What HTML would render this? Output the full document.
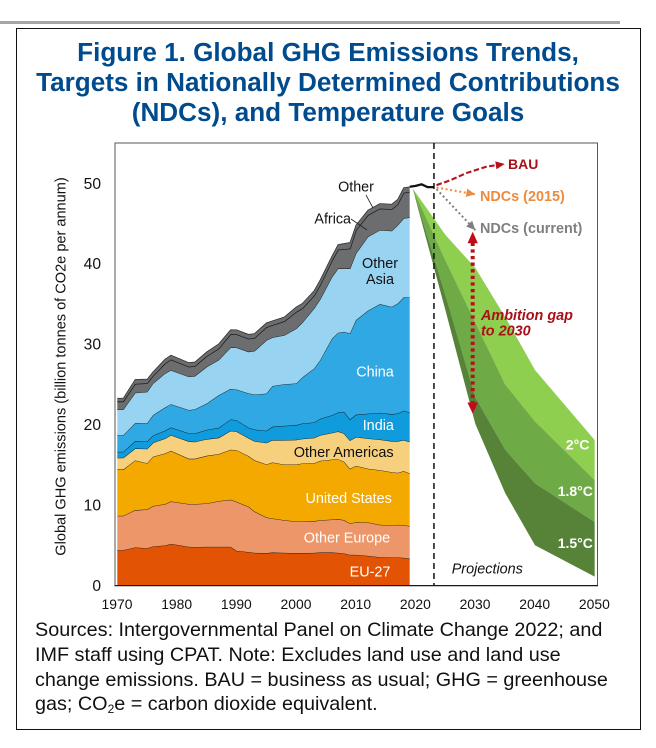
<!DOCTYPE html>
<html lang="en">
<head>
<meta charset="utf-8">
<title>Figure 1. Global GHG Emissions Trends</title>
<style>
html,body{margin:0;padding:0;background:#fff;width:656px;height:748px;overflow:hidden;font-family:"Liberation Sans",sans-serif}
#rule{position:absolute;left:0;top:21px;width:620px;height:3px;background:#a6a6a6}
#frame{position:absolute;left:16px;top:28px;width:623px;height:700px;border:1px solid #111;box-sizing:content-box}
#title{position:absolute;left:16px;top:38px;width:624px;text-align:center;color:#004b8d;font-weight:bold;font-size:26.1px;line-height:29.8px;white-space:nowrap}
#notes{position:absolute;left:35px;top:618px;width:600px;color:#111;font-size:19.8px;line-height:24.8px;white-space:nowrap}
#notes sub{font-size:12px;line-height:0;vertical-align:-3px}
svg{position:absolute;left:0;top:0}
svg text{font-family:"Liberation Sans",sans-serif}
</style>
</head>
<body>
<div id="rule"></div>
<div id="frame"></div>
<div id="title">Figure 1. Global GHG Emissions Trends,<br>Targets in Nationally Determined Contributions<br>(NDCs), and Temperature Goals</div>
<svg id="chart" width="656" height="748" viewBox="0 0 656 748"></svg>
<div id="notes">Sources: Intergovernmental Panel on Climate Change 2022; and<br>IMF staff using CPAT. Note: Excludes land use and land use<br>change emissions. BAU = business as usual; GHG = greenhouse<br>gas; CO<sub>2</sub>e = carbon dioxide equivalent.</div>
<script>
const histYears = [1970,1971,1973,1975,1976,1978,1979,1982,1983,1985,1987,1989,1990,1992,1993,1995,1996,1998,2000,2001,2003,2004,2006,2007,2008,2009,2010,2012,2014,2016,2017,2018,2019];
const eu27 = [4.39,4.39,4.73,4.64,4.85,4.98,5.18,4.81,4.77,4.81,4.81,4.81,4.31,4.15,4.06,4.02,4.10,4.06,4.02,4.02,4.06,4.10,4.10,4.06,3.98,3.81,3.81,3.69,3.52,3.48,3.48,3.44,3.32];
const otherEurope = [4.27,4.27,4.64,4.81,5.02,5.14,5.27,5.31,5.35,5.39,5.68,5.85,6.09,5.64,5.14,4.44,4.23,4.06,3.94,3.94,3.94,4.02,4.10,4.19,4.15,3.90,4.06,4.15,4.02,4.02,4.06,4.06,4.06];
const unitedStates = [5.76,5.76,6.18,5.76,6.14,6.30,6.30,5.64,5.64,5.93,5.85,6.22,6.43,6.30,6.38,6.59,6.97,6.92,7.09,7.21,7.21,7.38,7.46,7.46,7.26,6.80,7.01,6.68,6.80,6.59,6.47,6.72,6.55];
const otherAmericas = [1.45,1.45,1.49,1.78,1.74,1.87,1.95,2.16,2.11,2.07,2.03,2.36,2.32,2.24,2.36,2.69,2.78,3.03,3.07,3.07,3.15,3.19,3.32,3.44,3.52,3.52,3.57,3.77,3.81,3.86,3.94,3.86,3.94];
const india = [0.75,0.75,0.91,0.91,0.91,0.95,0.95,1.00,1.04,1.16,1.24,1.41,1.41,1.29,1.45,1.49,1.66,1.78,1.82,1.91,1.91,2.03,2.20,2.36,2.69,2.61,2.78,3.07,3.32,3.36,3.44,3.65,3.65];
const china = [2.07,2.07,2.24,2.28,2.53,2.90,2.90,2.90,2.99,3.28,4.05,3.81,3.81,4.27,4.35,4.64,5.06,5.18,5.18,5.72,6.72,7.30,9.54,9.91,9.95,10.70,11.77,12.81,13.52,13.35,13.68,14.10,14.30];
const otherAsia = [3.19,3.19,3.77,3.90,3.94,4.23,4.23,4.15,4.15,4.56,4.40,5.14,5.22,5.18,5.43,6.63,6.05,6.09,6.84,6.81,7.49,7.58,7.67,8.00,7.88,8.08,8.29,9.20,9.20,9.45,9.74,9.83,9.95];
const africa = [1.00,1.00,1.12,1.08,0.95,1.24,1.33,1.24,1.24,1.33,1.41,1.66,1.66,1.62,1.62,1.62,1.53,1.74,2.07,1.78,1.58,1.78,2.03,2.36,2.40,2.49,2.90,2.69,2.69,2.69,2.61,3.19,3.19];
const otherRegions = [0.41,0.41,0.54,0.50,0.50,0.54,0.54,0.50,0.50,0.54,0.58,0.54,0.54,0.54,0.54,0.54,0.54,0.54,0.62,0.62,0.62,0.62,0.58,0.62,0.70,0.75,0.62,0.62,0.62,0.62,0.62,0.62,0.62];

const recentYears = [2019,2020,2021,2022,2023];
const recentTotal = [49.6,49.7,49.9,49.55,49.55];

const pathwayYears = [2019.5,2025,2030,2035,2040,2050];
const pathway2C = [49.4,43.6,39.5,33.4,26.8,18.1];
const pathway18C = [49.4,40.4,32.7,25.0,20.4,13.1];
const pathway15C = [49.4,36.1,23.4,16.9,12.7,7.9];
const pathwayFloor = [49.4,34.2,20.1,11.5,5.0,1.1];

const bauYears = [2023.5,2025.8,2028.5,2031.9,2034.6];
const bauValues = [49.8,50.4,51.3,52.1,52.4];
const ndc2015Years = [2023.5,2030];
const ndc2015Values = [49.5,48.65];
const ndcCurrentYears = [2023.5,2030];
const ndcCurrentValues = [49.3,44.2];
const gapYear = 2029.56;
const gapHigh = 44.0;
const gapLow = 21.4;
const policyYear = 2023;

const xTicks = [1970,1980,1990,2000,2010,2020,2030,2040,2050];
const yTicks = [0,10,20,30,40,50];

const NS = 'http://www.w3.org/2000/svg';
const svg = document.getElementById('chart');
const xPos = yr => 117.3 + (yr - 1970) * 5.967;
const yPos = v => 585.5 - v * 8.04;
function make(tag, attrs, parent) {
  const el = document.createElementNS(NS, tag);
  for (const k in attrs) el.setAttribute(k, attrs[k]);
  (parent || svg).appendChild(el);
  return el;
}
function linePath(xs, ys) {
  return xs.map((x, i) => (i ? 'L' : 'M') + xPos(x).toFixed(2) + ' ' + yPos(ys[i]).toFixed(2)).join(' ');
}
function bandPath(xs, lo, hi) {
  let d = linePath(xs, hi);
  for (let i = xs.length - 1; i >= 0; i--) d += ' L' + xPos(xs[i]).toFixed(2) + ' ' + yPos(lo[i]).toFixed(2);
  return d + ' Z';
}
function label(str, x, y, size, fill, opts, name) {
  const t = make('text', Object.assign({x: x, y: y, 'font-size': size, fill: fill}, opts || {}));
  t.textContent = str;
  
  
  return t;
}

const plot = make('rect', {x: 115, y: 143, width: 482.5, height: 442.5, fill: '#fff', stroke: '#555', 'stroke-width': 1});



const bandSeries = [eu27, otherEurope, unitedStates, otherAmericas, india, china, otherAsia, africa, otherRegions];
const bandFills = ['#e25404','#ec9669','#f3a900','#f7d07d','#0f9bdc','#2fa8e3','#98d4f1','#6c6d6f','#6c6d6f'];
const bandNames = ['band-eu-27','band-other-europe','band-united-states','band-other-americas','band-india','band-china','band-other-asia','band-africa','band-other'];
let lower = histYears.map(() => 0);
bandSeries.forEach((series, i) => {
  const upper = series.map((v, j) => v + lower[j]);
  const band = make('path', {d: bandPath(histYears, lower, upper), fill: bandFills[i], stroke: 'none'});
  
  
  const edge = make('path', {d: linePath(histYears, upper), fill: 'none', stroke: i === 8 ? '#333' : '#111', 'stroke-width': i === 7 ? 1.3 : 0.8});
  
  
  lower = upper;
});

const recent = make('path', {d: linePath(recentYears, recentTotal), fill: 'none', stroke: '#111', 'stroke-width': 2.3});



const p2 = make('path', {d: bandPath(pathwayYears, pathway18C, pathway2C), fill: '#8fcf4f'});


const p18 = make('path', {d: bandPath(pathwayYears, pathway15C, pathway18C), fill: '#6eaa45'});


const p15 = make('path', {d: bandPath(pathwayYears, pathwayFloor, pathway15C), fill: '#568338'});



const divider = make('line', {x1: xPos(policyYear) + 0.4, x2: xPos(policyYear) + 0.4, y1: 143, y2: 585, stroke: '#111', 'stroke-width': 1.5, 'stroke-dasharray': '6 4'});



const axisLine = make('line', {x1: 114.5, x2: 598, y1: 585.7, y2: 585.7, stroke: '#111', 'stroke-width': 1.2});



function arrowHead(tipX, tipY, fromX, fromY, len, half, fill, name) {
  const dx = tipX - fromX, dy = tipY - fromY, m = Math.hypot(dx, dy) || 1;
  const ux = dx / m, uy = dy / m;
  const bx = tipX - ux * len, by = tipY - uy * len;
  const head = make('polygon', {points: tipX + ',' + tipY + ' ' + (bx - uy * half) + ',' + (by + ux * half) + ' ' + (bx + uy * half) + ',' + (by - ux * half), fill: fill});
  
  
}

const bau = make('path', {d: linePath(bauYears, bauValues), fill: 'none', stroke: '#b5121b', 'stroke-width': 2.1, 'stroke-dasharray': '5.5 2.5'});


const bauEnd = bauYears.length - 1;
arrowHead(xPos(bauYears[bauEnd]) + 2, yPos(bauValues[bauEnd]) - 0.2, xPos(bauYears[bauEnd - 1]), yPos(bauValues[bauEnd - 1]), 9, 4, '#b5121b', 'bau-arrow-head');

const ndcA = make('path', {d: linePath(ndc2015Years, ndc2015Values), fill: 'none', stroke: '#ed8b3f', 'stroke-width': 2, 'stroke-dasharray': '2 2.6'});


const lastA = ndc2015Years.length - 1;
arrowHead(xPos(ndc2015Years[lastA]), yPos(ndc2015Values[lastA]), xPos(ndc2015Years[0]), yPos(ndc2015Values[0]), 9, 4.2, '#ed8b3f', 'ndc-2015-arrow-head');

const ndcB = make('path', {d: linePath(ndcCurrentYears, ndcCurrentValues), fill: 'none', stroke: '#7f7f7f', 'stroke-width': 2, 'stroke-dasharray': '2 2.6'});


const lastB = ndcCurrentYears.length - 1;
arrowHead(xPos(ndcCurrentYears[lastB]), yPos(ndcCurrentValues[lastB]), xPos(ndcCurrentYears[0]), yPos(ndcCurrentValues[0]), 9, 4.2, '#7f7f7f', 'ndc-current-arrow-head');

const gap = make('line', {x1: xPos(gapYear), x2: xPos(gapYear), y1: yPos(gapHigh) + 11, y2: yPos(gapLow) - 10, stroke: '#b5121b', 'stroke-width': 4, 'stroke-dasharray': '3.3 3.3'});


arrowHead(xPos(gapYear), yPos(gapHigh), xPos(gapYear), yPos(gapHigh) + 20, 11.5, 5.2, '#c00d18', 'ambition-gap-head-up');
arrowHead(xPos(gapYear), yPos(gapLow), xPos(gapYear), yPos(gapLow) - 20, 11, 5.3, '#c00d18', 'ambition-gap-head-down');

xTicks.forEach(t => {
  label(String(t), xPos(t) - 0.3, 609, 13.9, '#111', {'text-anchor': 'middle'}, 'x-tick-' + t);
});
yTicks.forEach(t => {
  label(String(t), 101, yPos(t) + 5.3, 15.6, '#111', {'text-anchor': 'end'}, 'y-tick-' + t);
});
label('Global GHG emissions (billion tonnes of CO2e per annum)', 0, 0, 14.55, '#111', {'text-anchor': 'middle', transform: 'translate(65.5 366.5) rotate(-90)'}, 'y-axis-title');

const white = '#fff', ink = '#111';
label('China', 375, 376.7, 14.4, white, {'text-anchor': 'middle'}, 'label-china');
label('India', 378.3, 430, 14.4, white, {'text-anchor': 'middle'}, 'label-india');
label('Other Americas', 343.7, 457, 14.5, ink, {'text-anchor': 'middle'}, 'label-other-americas');
label('United States', 348.7, 503, 14.4, white, {'text-anchor': 'middle'}, 'label-united-states');
label('Other Europe', 347, 542.7, 14.4, white, {'text-anchor': 'middle'}, 'label-other-europe');
label('EU-27', 370, 576.7, 14.4, white, {'text-anchor': 'middle'}, 'label-eu-27');
label('Other', 380, 268, 14.4, ink, {'text-anchor': 'middle'}, 'label-other-asia-line-1');
label('Asia', 380, 284, 14.4, ink, {'text-anchor': 'middle'}, 'label-other-asia-line-2');
label('Other', 356, 191.7, 14.3, ink, {'text-anchor': 'middle'}, 'label-other');
label('Africa', 332.7, 223.3, 14.3, ink, {'text-anchor': 'middle'}, 'label-africa');

const leaderOther = make('line', {x1: 366, y1: 195, x2: 373, y2: 208, stroke: '#222', 'stroke-width': 0.8});


const leaderAfrica = make('line', {x1: 351, y1: 219, x2: 367, y2: 230, stroke: '#222', 'stroke-width': 0.8});



label('BAU', 508, 169, 14, '#a8101a', {'font-weight': 'bold'}, 'label-bau');
label('NDCs (2015)', 480, 201, 14.4, '#ed8b3f', {'font-weight': 'bold'}, 'label-ndcs-2015');
label('NDCs (current)', 480, 233, 14.4, '#7f7f7f', {'font-weight': 'bold'}, 'label-ndcs-current');
label('Ambition gap', 481, 320, 14.4, '#a8101a', {'font-weight': 'bold', 'font-style': 'italic'}, 'label-ambition-gap-line-1');
label('to 2030', 481, 335.7, 14.4, '#a8101a', {'font-weight': 'bold', 'font-style': 'italic'}, 'label-ambition-gap-line-2');
label('2°C', 565.7, 449.5, 14.2, white, {'font-weight': 'bold'}, 'label-2c');
label('1.8°C', 557.7, 496, 14, white, {'font-weight': 'bold'}, 'label-1-8c');
label('1.5°C', 557.7, 548, 14, white, {'font-weight': 'bold'}, 'label-1-5c');
label('Projections', 451.7, 573.3, 14.4, ink, {'font-style': 'italic'}, 'label-projections');
</script>
</body>
</html>
